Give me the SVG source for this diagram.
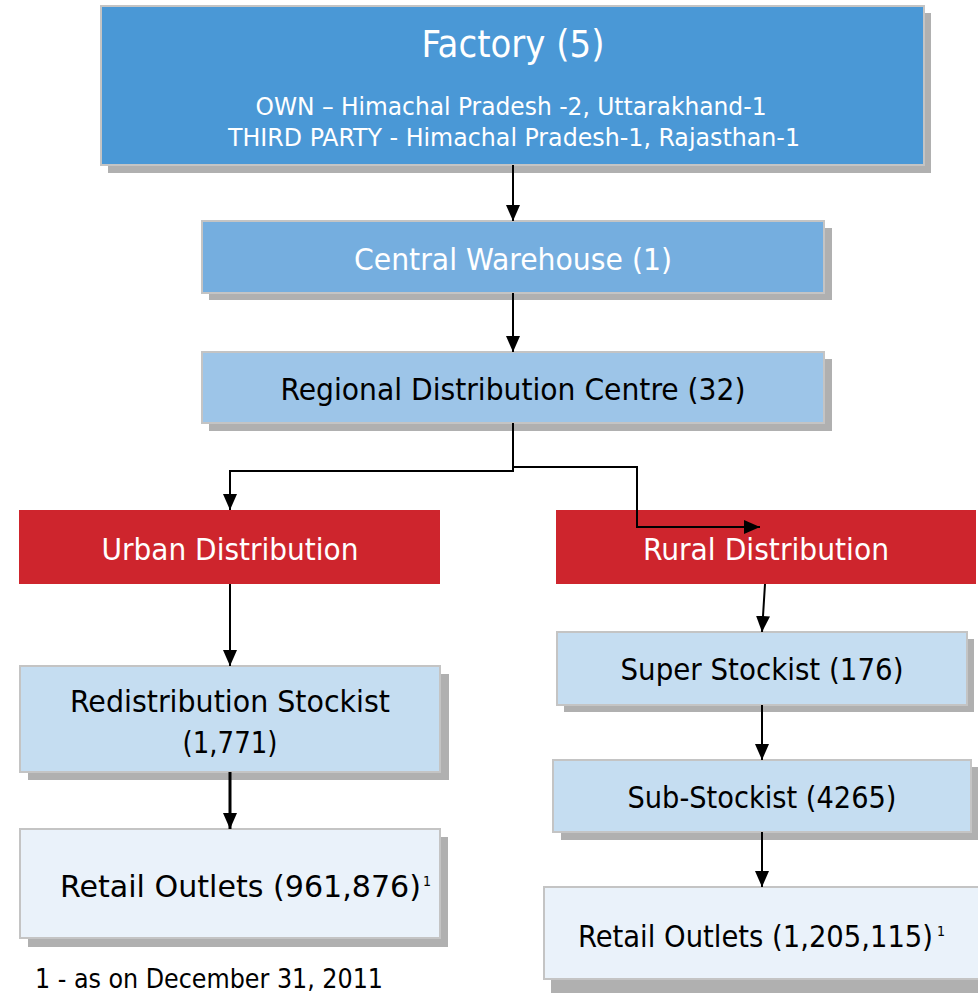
<svg xmlns="http://www.w3.org/2000/svg" width="978" height="993" viewBox="0 0 978 993">
<defs>
<marker id="ah" viewBox="0 0 16 14" markerWidth="16" markerHeight="14" refX="16" refY="7" orient="auto" markerUnits="userSpaceOnUse">
<path d="M0,0 L16,7 L0,14 z" fill="#000"/>
</marker>
</defs>
<style>
.sh{fill:#b0b0b0}
.bx{stroke:#c4c4c4;stroke-width:2}
text{font-family:"DejaVu Sans Condensed","DejaVu Sans","Liberation Sans",sans-serif;font-stretch:condensed}
.t{text-anchor:middle}
.s{font-size:14px}
.w{fill:#fff}
.k{fill:#000}
.c{fill:none;stroke:#000;stroke-width:2;marker-end:url(#ah)}
</style>
<rect width="978" height="993" fill="#fff"/>
<g id="factory">
<rect class="sh" x="108" y="13" width="823" height="160"/>
<rect class="bx" x="101" y="6" width="823" height="159" fill="#4a98d6"/>
<text class="t w" x="513" y="57" font-size="37" textLength="183" lengthAdjust="spacingAndGlyphs">Factory (5)</text>
<text class="t w" x="511" y="115" font-size="25" textLength="511" lengthAdjust="spacingAndGlyphs">OWN – Himachal Pradesh -2, Uttarakhand-1</text>
<text class="t w" x="514" y="146" font-size="25" textLength="572" lengthAdjust="spacingAndGlyphs">THIRD PARTY - Himachal Pradesh-1, Rajasthan-1</text>
</g>
<g id="central-warehouse">
<rect class="sh" x="209" y="228" width="623" height="72"/>
<rect class="bx" x="202" y="221" width="622" height="72" fill="#75aedf"/>
<text class="t w" x="513" y="270" font-size="30" textLength="318" lengthAdjust="spacingAndGlyphs">Central Warehouse (1)</text>
</g>
<g id="rdc">
<rect class="sh" x="209" y="359" width="623" height="72"/>
<rect class="bx" x="202" y="352" width="622" height="71" fill="#9dc5e8"/>
<text class="t k" x="513" y="400" font-size="30" textLength="465" lengthAdjust="spacingAndGlyphs">Regional Distribution Centre (32)</text>
</g>
<g id="urban">
<rect x="19" y="510" width="421" height="74" fill="#ce252d"/>
<text class="t w" x="230" y="560" font-size="30" textLength="257" lengthAdjust="spacingAndGlyphs">Urban Distribution</text>
</g>
<g id="rural">
<rect x="556" y="510" width="420" height="74" fill="#ce252d"/>
<text class="t w" x="766" y="560" font-size="30" textLength="246" lengthAdjust="spacingAndGlyphs">Rural Distribution</text>
</g>
<g id="redistribution">
<rect class="sh" x="28" y="674" width="421" height="106"/>
<rect class="bx" x="20" y="666" width="420" height="106" fill="#c5ddf1"/>
<text class="t k" x="230" y="712" font-size="30" textLength="320" lengthAdjust="spacingAndGlyphs">Redistribution Stockist</text>
<text class="t k" x="230" y="753" font-size="30" textLength="95" lengthAdjust="spacingAndGlyphs">(1,771)</text>
</g>
<g id="retail-urban">
<rect class="sh" x="28" y="837" width="420" height="110"/>
<rect class="bx" x="20" y="829" width="420" height="109" fill="#eaf2fa"/>
<text class="t k" x="240.5" y="897" font-size="30" textLength="361" lengthAdjust="spacingAndGlyphs">Retail Outlets (961,876)</text>
<text class="s k" x="423" y="886">1</text>
</g>
<g id="super-stockist">
<rect class="sh" x="564" y="639" width="410" height="73"/>
<rect class="bx" x="557" y="632" width="410" height="73" fill="#c5ddf1"/>
<text class="t k" x="762" y="680" font-size="30" textLength="283" lengthAdjust="spacingAndGlyphs">Super Stockist (176)</text>
</g>
<g id="sub-stockist">
<rect class="sh" x="561" y="767" width="418" height="73"/>
<rect class="bx" x="553" y="760" width="418" height="72" fill="#c5ddf1"/>
<text class="t k" x="762" y="808" font-size="30" textLength="269" lengthAdjust="spacingAndGlyphs">Sub-Stockist (4265)</text>
</g>
<g id="retail-rural">
<rect class="sh" x="551" y="894" width="434" height="99"/>
<rect class="bx" x="544" y="887" width="440" height="92" fill="#eaf2fa"/>
<text class="t k" x="755.5" y="947" font-size="30" textLength="355" lengthAdjust="spacingAndGlyphs">Retail Outlets (1,205,115)</text>
<text class="s k" x="937" y="936">1</text>
</g>
<g id="footnote">
<text class="k" x="35" y="988" font-size="27" textLength="348" lengthAdjust="spacingAndGlyphs">1 - as on December 31, 2011</text>
</g>
<g id="connectors">
<path class="c" d="M513,165 V221"/>
<path class="c" d="M513,293 V352"/>
<path class="c" d="M513,423 V471 H230 V510"/>
<path class="c" d="M513,467 H637 V527 H760"/>
<path class="c" d="M230,584 V666"/>
<path class="c" d="M230,772 V829" style="stroke-width:3"/>
<path class="c" d="M765,584 L762,632"/>
<path class="c" d="M762,705 V760"/>
<path class="c" d="M762,832 V887"/>
</g>
</svg>
